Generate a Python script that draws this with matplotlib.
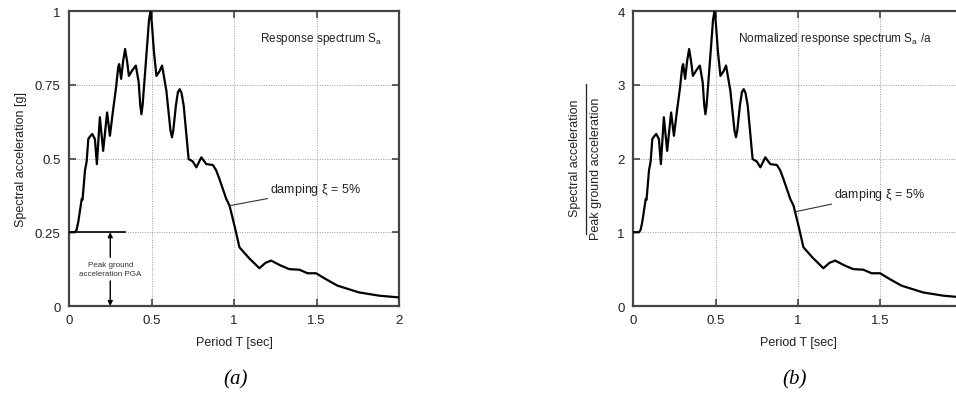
import matplotlib
matplotlib.use("Agg")
import matplotlib.pyplot as plt

plt.rcParams['font.family'] = ['Liberation Sans', 'DejaVu Sans']

# Elastic response spectrum (5% damping), spectral acceleration in g
period = [0.0, 0.036, 0.046, 0.056, 0.071, 0.077, 0.082, 0.097, 0.107, 0.117,
          0.128, 0.141, 0.157, 0.169, 0.187, 0.207, 0.231, 0.248, 0.268, 0.285,
          0.298, 0.304, 0.316, 0.328, 0.340, 0.352, 0.363, 0.385, 0.405, 0.422,
          0.432, 0.439, 0.446, 0.465, 0.485, 0.494, 0.502, 0.515, 0.530, 0.548,
          0.564, 0.590, 0.615, 0.624, 0.632, 0.648, 0.660, 0.671, 0.682, 0.695,
          0.725, 0.750, 0.772, 0.802, 0.832, 0.872, 0.892, 0.912, 0.953, 0.973,
          1.003, 1.033, 1.090, 1.154, 1.190, 1.225, 1.280, 1.335, 1.396, 1.446,
          1.497, 1.560, 1.627, 1.758, 1.880, 2.000]
sa = [0.250, 0.250, 0.258, 0.284, 0.340, 0.363, 0.360, 0.460, 0.490, 0.566,
      0.575, 0.583, 0.566, 0.481, 0.640, 0.526, 0.656, 0.577, 0.668, 0.740,
      0.809, 0.820, 0.770, 0.830, 0.871, 0.830, 0.780, 0.800, 0.815, 0.760,
      0.680, 0.650, 0.680, 0.820, 0.970, 1.000, 0.960, 0.860, 0.780, 0.795,
      0.815, 0.730, 0.595, 0.572, 0.595, 0.680, 0.725, 0.735, 0.722, 0.680,
      0.498, 0.490, 0.470, 0.504, 0.481, 0.478, 0.460, 0.430, 0.363, 0.340,
      0.272, 0.199, 0.163, 0.128, 0.146, 0.154, 0.138, 0.125, 0.123, 0.111,
      0.111, 0.090, 0.069, 0.046, 0.035, 0.029]
pga = 0.25
sa_norm = [v / pga for v in sa]

x_ticks = [0, 0.5, 1, 1.5, 2]
x_ticklabels = ["0", "0.5", "1", "1.5", "2"]
y_ticks_a = [0, 0.25, 0.5, 0.75, 1]
y_ticklabels_a = ["0", "0.25", "0.5", "0.75", "1"]
y_ticks_b = [0, 1, 2, 3, 4]
y_ticklabels_b = ["0", "1", "2", "3", "4"]

W, H = 956, 406
fig = plt.figure(figsize=(W / 100, H / 100), dpi=100)

spine_col = "#444444"
text_col = "#222222"


def style(ax, values, yt, ytl, ymax):
    ax.plot(period, values, color="black", lw=1.6, zorder=3,
            solid_joinstyle="round", solid_capstyle="round")
    ax.set_xlim(0, 2)
    ax.set_ylim(0, ymax)
    ax.set_xticks(x_ticks)
    ax.set_xticklabels(x_ticklabels)
    ax.set_yticks(yt)
    ax.set_yticklabels(ytl)
    ax.grid(True, color="#9a9a9a", ls=(0, (1, 1.5)), lw=0.7)
    ax.tick_params(direction="in", length=5, width=1.2, colors=spine_col,
                   labelcolor=text_col, labelsize=9.5, top=True, right=True,
                   pad=6)
    for s in ax.spines.values():
        s.set_color(spine_col)
        s.set_linewidth(1.6)
    ax.set_xlabel("Period T [sec]", fontsize=9, color=text_col, labelpad=7)


# (a) response spectrum
axa = fig.add_axes([69 / W, 1 - 307 / H, 330 / W, 295 / H])
style(axa, sa, y_ticks_a, y_ticklabels_a, 1)
axa.set_ylabel("Spectral acceleration [g]", fontsize=9, color=text_col,
               labelpad=6)
axa.text(1.90, 0.91, r"Response spectrum S$_\mathregular{a}$", ha="right",
         va="center", fontsize=8.5, color=text_col)
axa.annotate(r"damping $\mathregular{\xi}$ = 5%", xy=(0.973, 0.34),
             xytext=(1.22, 0.395), fontsize=9, color=text_col, va="center",
             arrowprops=dict(arrowstyle="-", color="#333333", lw=0.8,
                             shrinkA=0, shrinkB=0))
# PGA marker
axa.plot([0, 0.34], [pga, pga], color="black", lw=1.2, zorder=3)
axa.annotate("", xy=(0.25, pga), xytext=(0.25, 0.165),
             arrowprops=dict(arrowstyle="-|>", color="black", lw=1.0,
                             mutation_scale=7, shrinkA=0, shrinkB=0))
axa.annotate("", xy=(0.25, 0.0), xytext=(0.25, 0.085),
             arrowprops=dict(arrowstyle="-|>", color="black", lw=1.0,
                             mutation_scale=7, shrinkA=0, shrinkB=0))
axa.text(0.25, 0.125, "Peak ground\nacceleration PGA", ha="center",
         va="center", fontsize=5.8, color="#333333", linespacing=1.3)

# (b) normalized response spectrum; its right end runs past the figure edge
axb = fig.add_axes([633 / W, 1 - 307 / H, 330 / W, 295 / H])
style(axb, sa_norm, y_ticks_b, y_ticklabels_b, 4)
axb.get_xticklabels()[-1].set_visible(False)
axb.text(1.81, 3.64, r"Normalized response spectrum S$_\mathregular{a}$ /a",
         ha="right", va="center", fontsize=8.5, color=text_col)
axb.annotate(r"damping $\mathregular{\xi}$ = 5%", xy=(0.988, 1.28),
             xytext=(1.22, 1.52), fontsize=9, color=text_col, va="center",
             arrowprops=dict(arrowstyle="-", color="#333333", lw=0.8,
                             shrinkA=0, shrinkB=0))

# fraction-style y label
fig.text(575 / W, 1 - 158 / H, "Spectral acceleration", rotation=90,
         ha="center", va="center", fontsize=9, color=text_col)
fig.text(596 / W, 1 - 169 / H, "Peak ground acceleration", rotation=90,
         ha="center", va="center", fontsize=9, color=text_col)
fig.add_artist(plt.Line2D([586 / W, 586 / W], [1 - 235 / H, 1 - 85 / H],
                          color=text_col, lw=0.9, transform=fig.transFigure))

# panel captions
fig.text(236 / W, 1 - 380 / H, "(a)", ha="center", va="center", fontsize=15,
         family="Liberation Serif", style="italic", color="black")
fig.text(795 / W, 1 - 380 / H, "(b)", ha="center", va="center", fontsize=15,
         family="Liberation Serif", style="italic", color="black")

fig.savefig("out.png", dpi=100)
